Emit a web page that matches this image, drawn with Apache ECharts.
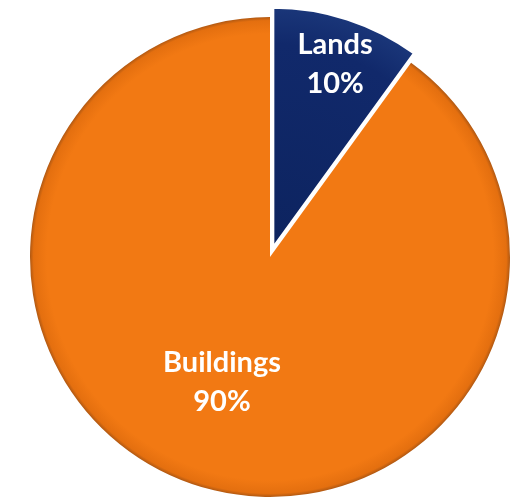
<!DOCTYPE html>
<html>
<head>
<meta charset="utf-8">
<script src="https://cdn.jsdelivr.net/npm/echarts@6/dist/echarts.min.js"></script>
<style>
  html, body { margin: 0; padding: 0; background: #fff; }
  #chart { width: 526px; height: 504px; }
</style>
</head>
<body>
<div id="chart"></div>
<script>
// Share of assets by type
const categories = ['Lands', 'Buildings'];
const shares = [10, 90];

const CX = 270, CY = 257, R = 240, PULL = 10;

// shaded fills, centred on each slice's own apex
const fills = [
  { type: 'radial', x: CX + 3, y: CY - 9.5, r: R + 2, global: true,
    colorStops: [{ offset: 0, color: '#0d2460' }, { offset: 0.8, color: '#11296b' }, { offset: 0.95, color: '#1a3679' }, { offset: 1, color: '#2b4a8e' }] },
  { type: 'radial', x: CX, y: CY, r: R, global: true,
    colorStops: [{ offset: 0, color: '#f27913' }, { offset: 0.93, color: '#f27913' }, { offset: 0.985, color: '#e46f0f' }, { offset: 1, color: '#b05812' }] }
];

// label nudges (dx, dy) per slice
const labelShift = [[24, -66], [-10, 8]];

const chart = echarts.init(document.getElementById('chart'), null, { renderer: 'canvas' });

chart.setOption({
  animation: false,
  series: [{
    type: 'pie',
    center: [CX, CY],
    radius: R,
    startAngle: 90,
    clockwise: true,
    selectedMode: 'single',
    selectedOffset: PULL,
    avoidLabelOverlap: false,
    label: {
      show: true,
      position: 'inside',
      formatter: p => p.name + '\n' + p.value + '%',
      color: '#ffffff',
      fontFamily: 'Lato, "Open Sans", sans-serif',
      fontWeight: 'bold',
      fontSize: 29,
      lineHeight: 39
    },
    labelLine: { show: false },
    labelLayout: p => ({ dx: labelShift[p.dataIndex][0], dy: labelShift[p.dataIndex][1] }),
    emphasis: { disabled: true },
    data: categories.map((name, i) => ({
      name: name,
      value: shares[i],
      selected: i === 0,
      itemStyle: {
        color: fills[i],
        borderColor: i === 0 ? '#ffffff' : 'rgba(0,0,0,0)',
        borderWidth: i === 0 ? 2.5 : 0
      }
    }))
  }]
});
</script>
</body>
</html>
